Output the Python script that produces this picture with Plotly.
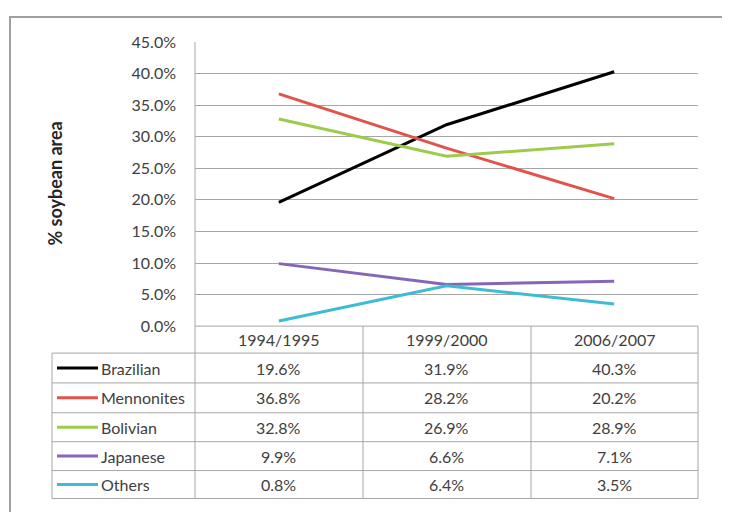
import plotly.graph_objects as go

categories = ["1994/1995", "1999/2000", "2006/2007"]
series_names = ["Brazilian", "Mennonites", "Bolivian", "Japanese", "Others"]
brazilian = [19.6, 31.9, 40.3]
mennonites = [36.8, 28.2, 20.2]
bolivian = [32.8, 26.9, 28.9]
japanese = [9.9, 6.6, 7.1]
others = [0.8, 6.4, 3.5]
y_ticks = [0, 5, 10, 15, 20, 25, 30, 35, 40, 45]
y_title = "% soybean area"

series_values = [brazilian, mennonites, bolivian, japanese, others]
colors = ["#000000", "#e0544c", "#9dcb4c", "#8566b8", "#3fbcd4"]

W, H = 730, 512
OFF = 8  # page body margin
FONT = "Lato"
FS = 16
TXT = "#404040"
GRID = "#a6a6a6"

def px(x):
    return (x - OFF) / W

def py(y):
    return 1 - (y - OFF) / H

plot_l, plot_r, plot_t, plot_b = 195, 698, 33, 328
row_edges = [328, 356, 387, 418, 448, 478, 507]
col_edges = [195, 363, 531, 698]
table_left = 52

fig = go.Figure()
for name, vals, c in zip(series_names, series_values, colors):
    fig.add_trace(go.Scatter(x=categories, y=vals, mode="lines", name=name,
                             line=dict(color=c, width=3), showlegend=False))

shapes = []
# outer frame
shapes.append(dict(type="rect", xref="paper", yref="paper", x0=px(10), x1=px(723),
                   y0=py(530), y1=py(7), line=dict(color="#a0a0a0", width=2)))
# table horizontal lines
for i, y in enumerate(row_edges):
    x0 = plot_l if i == 0 else table_left
    shapes.append(dict(type="line", xref="paper", yref="paper", x0=px(x0), x1=px(plot_r),
                       y0=py(y), y1=py(y), line=dict(color=GRID, width=1)))
# table vertical lines
for x in col_edges:
    shapes.append(dict(type="line", xref="paper", yref="paper", x0=px(x), x1=px(x),
                       y0=py(plot_b if x != plot_l else plot_t), y1=py(row_edges[-1]),
                       line=dict(color=GRID, width=1)))
shapes.append(dict(type="line", xref="paper", yref="paper", x0=px(table_left), x1=px(table_left),
                   y0=py(row_edges[1]), y1=py(row_edges[-1]), line=dict(color=GRID, width=1)))

annotations = []
for c in categories:
    annotations.append(dict(x=c, xref="x", y=py((row_edges[0] + row_edges[1]) / 2), yref="paper",
                            text=c, showarrow=False, font=dict(family=FONT, size=FS, color=TXT),
                            xanchor="center", yanchor="middle"))
for r, (name, vals, c) in enumerate(zip(series_names, series_values, colors)):
    yc = (row_edges[r + 1] + row_edges[r + 2]) / 2
    shapes.append(dict(type="line", xref="paper", yref="paper", x0=px(57), x1=px(98),
                       y0=py(yc), y1=py(yc), line=dict(color=c, width=3)))
    annotations.append(dict(x=px(99), xref="paper", y=py(yc), yref="paper", text=name,
                            showarrow=False, font=dict(family=FONT, size=FS, color=TXT),
                            xanchor="left", yanchor="middle"))
    for cat, v in zip(categories, vals):
        annotations.append(dict(x=cat, xref="x", y=py(yc), yref="paper", text=f"{v:.1f}%",
                                showarrow=False, font=dict(family=FONT, size=FS, color=TXT),
                                xanchor="center", yanchor="middle"))
annotations.append(dict(x=px(55), xref="paper", y=py(180), yref="paper", text=f"<b>{y_title}</b>",
                        textangle=-90, showarrow=False,
                        font=dict(family=FONT, size=18, color="#262626"),
                        xanchor="center", yanchor="middle"))

fig.update_layout(
    width=W, height=H, margin=dict(l=0, r=0, t=0, b=0),
    paper_bgcolor="white", plot_bgcolor="white",
    xaxis=dict(domain=[px(plot_l), px(plot_r)], showticklabels=False, showgrid=False,
               zeroline=False, showline=False, ticks="", range=[-0.5, 2.5], fixedrange=True),
    yaxis=dict(domain=[py(plot_b), py(plot_t)], range=[0, 45], tickvals=y_ticks,
               ticktext=[f"{t:.1f}%" for t in y_ticks], showgrid=True, gridcolor=GRID,
               gridwidth=1, zeroline=False, showline=False, ticks="", ticklen=0,
               tickfont=dict(family=FONT, size=FS, color=TXT), ticklabelstandoff=18),
    shapes=shapes, annotations=annotations,
)
fig.write_html("out.html")
